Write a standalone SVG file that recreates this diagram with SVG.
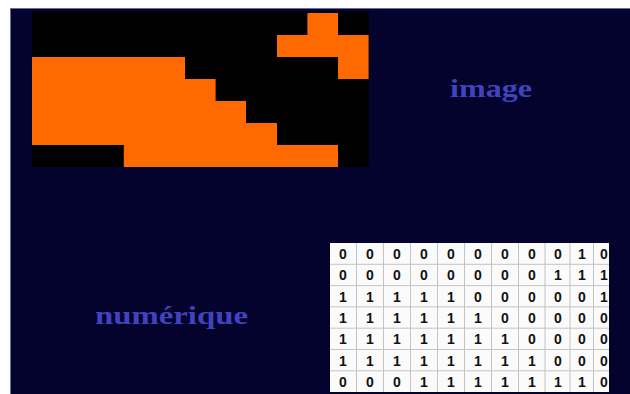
<svg xmlns="http://www.w3.org/2000/svg" width="630" height="394" viewBox="0 0 630 394">
<style>
.or{fill:#ff6a00}
.lbl{font-family:"Liberation Serif","Times New Roman",serif;font-weight:bold;fill:#4242be}
.d{font-family:"Liberation Sans",Arial,sans-serif;font-weight:bold;font-size:14px;fill:#111;text-anchor:middle}
.gl{stroke:#c4c4c4;stroke-width:1}
</style>
<rect x="0" y="0" width="630" height="394" fill="#ffffff"/>
<rect x="10.5" y="8.5" width="625" height="390" fill="#03032d" stroke="#6a6aa8" stroke-width="1"/>
<g id="picture">
<rect x="32" y="11" width="336.6" height="156" fill="#000000"/>
<rect class="or" x="307.4" y="13" width="30.6" height="22"/>
<rect class="or" x="277" y="35" width="91.6" height="22"/>
<rect class="or" x="32" y="57" width="153" height="22"/>
<rect class="or" x="338" y="57" width="30.6" height="22"/>
<rect class="or" x="32" y="79" width="183.6" height="22"/>
<rect class="or" x="32" y="101" width="214" height="22"/>
<rect class="or" x="32" y="123" width="245" height="22"/>
<rect class="or" x="123.8" y="145" width="214.2" height="22"/>
</g>
<g id="label-image"><text class="lbl" x="450" y="97" font-size="25" textLength="82" lengthAdjust="spacingAndGlyphs">image</text></g>
<g id="label-numerique"><text class="lbl" x="95" y="324" font-size="25" textLength="153" lengthAdjust="spacingAndGlyphs">numérique</text></g>
<g id="matrix">
<rect x="330" y="243" width="279" height="149" fill="#fbfbfb"/>
<g class="gl">
<line x1="356.5" y1="243" x2="356.5" y2="392"/>
<line x1="383.5" y1="243" x2="383.5" y2="392"/>
<line x1="410.5" y1="243" x2="410.5" y2="392"/>
<line x1="437.5" y1="243" x2="437.5" y2="392"/>
<line x1="464.5" y1="243" x2="464.5" y2="392"/>
<line x1="491.5" y1="243" x2="491.5" y2="392"/>
<line x1="518.5" y1="243" x2="518.5" y2="392"/>
<line x1="545" y1="243" x2="545" y2="392"/>
<line x1="570" y1="243" x2="570" y2="392"/>
<line x1="593.5" y1="243" x2="593.5" y2="392"/>
<line x1="330" y1="264.3" x2="609" y2="264.3"/>
<line x1="330" y1="285.6" x2="609" y2="285.6"/>
<line x1="330" y1="306.9" x2="609" y2="306.9"/>
<line x1="330" y1="328.2" x2="609" y2="328.2"/>
<line x1="330" y1="349.5" x2="609" y2="349.5"/>
<line x1="330" y1="370.8" x2="609" y2="370.8"/>
</g>
<g>
<text class="d" y="259"><tspan x="343">0</tspan><tspan x="370">0</tspan><tspan x="397">0</tspan><tspan x="424">0</tspan><tspan x="451">0</tspan><tspan x="478">0</tspan><tspan x="505">0</tspan><tspan x="532">0</tspan><tspan x="558">0</tspan><tspan x="582">1</tspan><tspan x="604">0</tspan></text>
<text class="d" y="280.3"><tspan x="343">0</tspan><tspan x="370">0</tspan><tspan x="397">0</tspan><tspan x="424">0</tspan><tspan x="451">0</tspan><tspan x="478">0</tspan><tspan x="505">0</tspan><tspan x="532">0</tspan><tspan x="558">1</tspan><tspan x="582">1</tspan><tspan x="604">1</tspan></text>
<text class="d" y="301.6"><tspan x="343">1</tspan><tspan x="370">1</tspan><tspan x="397">1</tspan><tspan x="424">1</tspan><tspan x="451">1</tspan><tspan x="478">0</tspan><tspan x="505">0</tspan><tspan x="532">0</tspan><tspan x="558">0</tspan><tspan x="582">0</tspan><tspan x="604">1</tspan></text>
<text class="d" y="322.9"><tspan x="343">1</tspan><tspan x="370">1</tspan><tspan x="397">1</tspan><tspan x="424">1</tspan><tspan x="451">1</tspan><tspan x="478">1</tspan><tspan x="505">0</tspan><tspan x="532">0</tspan><tspan x="558">0</tspan><tspan x="582">0</tspan><tspan x="604">0</tspan></text>
<text class="d" y="344.2"><tspan x="343">1</tspan><tspan x="370">1</tspan><tspan x="397">1</tspan><tspan x="424">1</tspan><tspan x="451">1</tspan><tspan x="478">1</tspan><tspan x="505">1</tspan><tspan x="532">0</tspan><tspan x="558">0</tspan><tspan x="582">0</tspan><tspan x="604">0</tspan></text>
<text class="d" y="365.5"><tspan x="343">1</tspan><tspan x="370">1</tspan><tspan x="397">1</tspan><tspan x="424">1</tspan><tspan x="451">1</tspan><tspan x="478">1</tspan><tspan x="505">1</tspan><tspan x="532">1</tspan><tspan x="558">0</tspan><tspan x="582">0</tspan><tspan x="604">0</tspan></text>
<text class="d" y="386.8"><tspan x="343">0</tspan><tspan x="370">0</tspan><tspan x="397">0</tspan><tspan x="424">1</tspan><tspan x="451">1</tspan><tspan x="478">1</tspan><tspan x="505">1</tspan><tspan x="532">1</tspan><tspan x="558">1</tspan><tspan x="582">1</tspan><tspan x="604">0</tspan></text>
</g>
</g>
</svg>
